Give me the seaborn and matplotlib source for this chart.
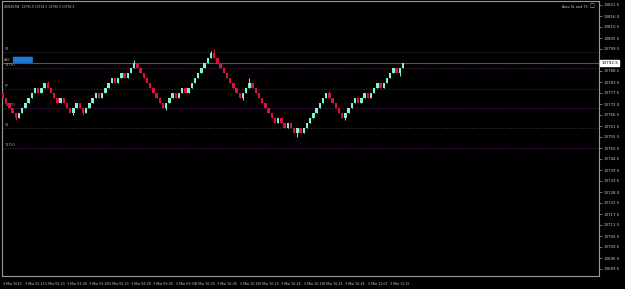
import numpy as np
import pandas as pd
import matplotlib
matplotlib.use("Agg")
import matplotlib.pyplot as plt
import matplotlib.transforms as mtransforms
import seaborn as sns

# ---------------- data ----------------
chart_title = "GER40,M4  13791.0 13792.5 13790.9 13792.5"
expert_label = "Auto SL and TS"

first_open = 13777.5
brick_closes = [
    13775.0, 13772.5, 13770.0, 13767.5, 13765.0,
    13767.5, 13770.0, 13772.5, 13775.0, 13777.5, 13780.0,
    13777.5,
    13780.0, 13782.5,
    13780.0,
    13777.5, 13775.0, 13772.5,
    13775.0,
    13772.5, 13770.0, 13767.5,
    13770.0, 13772.5,
    13770.0, 13767.5,
    13770.0, 13772.5, 13775.0, 13777.5,
    13775.0,
    13777.5, 13780.0, 13782.5, 13785.0,
    13782.5,
    13785.0, 13787.5,
    13785.0,
    13787.5, 13790.0, 13792.5,
    13790.0, 13787.5, 13785.0, 13782.5, 13780.0, 13777.5, 13775.0, 13772.5, 13770.0,
    13772.5, 13775.0, 13777.5,
    13775.0,
    13777.5, 13780.0,
    13777.5,
    13780.0, 13782.5, 13785.0, 13787.5, 13790.0, 13792.5, 13795.0, 13797.5,
    13795.0, 13792.5, 13790.0, 13787.5, 13785.0, 13782.5, 13780.0, 13777.5, 13775.0,
    13777.5, 13780.0, 13782.5,
    13780.0, 13777.5, 13775.0, 13772.5, 13770.0, 13767.5, 13765.0, 13762.5,
    13765.0,
    13762.5, 13760.0,
    13762.5,
    13760.0, 13757.5,
    13760.0,
    13757.5,
    13760.0, 13762.5, 13765.0, 13767.5, 13770.0, 13772.5, 13775.0, 13777.5,
    13775.0, 13772.5, 13770.0, 13767.5, 13765.0,
    13767.5, 13770.0, 13772.5, 13775.0,
    13772.5,
    13775.0, 13777.5,
    13775.0,
    13777.5, 13780.0, 13782.5,
    13780.0,
    13782.5, 13785.0, 13787.5, 13790.0,
    13787.5,
    13790.0, 13792.5,
]
# extra wick length (below, above) for some bricks
wick_extra = {4: (1.0, 0.0), 14: (0.0, 1.0), 22: (1.0, 0.0), 25: (1.0, 0.0),
              41: (0.0, 1.5), 51: (1.0, 0.0), 65: (0.0, 1.0), 66: (0.0, 2.0),
              75: (1.0, 0.0), 77: (0.0, 2.5), 92: (2.0, 0.0), 102: (0.0, 1.0),
              107: (1.0, 0.0), 124: (1.5, 0.0)}

price_ticks = [13821.5, 13816.0, 13810.5, 13805.0, 13799.5, 13794.0, 13788.5,
               13783.0, 13777.5, 13772.0, 13766.5, 13761.0, 13755.5, 13750.0,
               13744.5, 13739.0, 13733.5, 13728.0, 13722.5, 13717.0, 13711.5,
               13706.0, 13700.5, 13695.0, 13689.5]

time_tick_bricks = [0, 7, 13, 20, 27, 33, 40, 47, 54, 60, 67, 74, 80, 87, 94,
                    100, 107, 114, 121]
time_labels = ["3 Mar 2023", "3 Mar 02:15", "3 Mar 02:23", "3 Mar 03:06",
               "3 Mar 03:49", "3 Mar 06:13", "3 Mar 08:28", "3 Mar 09:00",
               "3 Mar 09:34", "3 Mar 10:00", "3 Mar 10:06", "3 Mar 10:16",
               "3 Mar 10:19", "3 Mar 10:26", "3 Mar 10:33", "3 Mar 10:41",
               "3 Mar 10:46", "3 Mar 11:07", "3 Mar 11:15"]

purple_levels = [13790.0, 13770.0, 13750.0]
purple_labels = ["13790", "13770", "13750"]
gray_levels = [13798.0, 13779.5, 13760.0]
gray_labels = ["R1", "PP", "S1"]
bid_price = 13792.5
ask_text = "13793.1"

# ---------------- build frame ----------------
n = len(brick_closes)
opens = [first_open] + brick_closes[:-1]
df = pd.DataFrame({"idx": np.arange(n), "open": opens, "close": brick_closes})
df["low"] = df[["open", "close"]].min(axis=1)
df["high"] = df[["open", "close"]].max(axis=1)
for i, (lo, hi) in wick_extra.items():
    df.loc[i, "low"] -= lo
    df.loc[i, "high"] += hi
df["up"] = df["close"] > df["open"]

GREEN = "#7ff5cf"
RED = "#e0103c"
AXC = "#9a9a9a"
TXT = "#c8c8c8"

sns.set_theme(style="dark", rc={
    "axes.facecolor": "black", "figure.facecolor": "black",
    "axes.edgecolor": AXC, "axes.grid": False,
    "xtick.color": AXC, "ytick.color": AXC,
})
plt.rcParams["font.family"] = ["DejaVu Sans"]

fig = plt.figure(figsize=(6.25, 2.89), dpi=100)
ax = fig.add_axes([2 / 625, 1 - 276 / 289, 597 / 625, 275 / 289])

# level lines
for lv in gray_levels:
    ax.axhline(lv, color="#343434", lw=0.8, ls=(0, (1, 1.5)), zorder=1)
for lv in purple_levels:
    ax.axhline(lv, color="#4e0f55", lw=0.9, ls=(0, (1, 1)), zorder=1)
ax.axhline(bid_price, color="#1a7a2a", lw=0.8, zorder=1)

lbl_tr = mtransforms.blended_transform_factory(ax.transAxes, ax.transData)
for lv, t in zip(gray_levels + purple_levels, gray_labels + purple_labels):
    ax.text(0.004, lv + 0.6, t, transform=lbl_tr, fontsize=2.4, color="#a0a0a0",
            va="bottom", ha="left")

# candles
colors = [GREEN if u else RED for u in df["up"]]
ax.vlines(df["idx"], df["low"], df["high"], colors=colors, lw=0.7, zorder=3)
ax.bar(df["idx"], df["close"] - df["open"], bottom=df["open"], width=0.75,
       color=colors, linewidth=0, zorder=4)

# axes
ax.set_xlim(-0.3125, 186.25)
ax.set_ylim(13686.0, 13823.5)
ax.yaxis.tick_right()
ax.set_yticks(price_ticks)
ax.set_yticklabels(["" if abs(p - bid_price) < 2.5 else f"{p:.1f}" for p in price_ticks],
                   fontsize=2.9, color=TXT)
ax.tick_params(axis="y", length=2, width=0.5, pad=1.5)
ax.set_xticks(time_tick_bricks)
ax.set_xticklabels(time_labels, fontsize=2.3, color=TXT, ha="left")
ax.tick_params(axis="x", length=2.5, width=0.5, pad=1.5)
for s in ax.spines.values():
    s.set_color(AXC)
    s.set_linewidth(0.8)

# current price box on right scale
ax.text(1.004, bid_price, f"{bid_price:.1f}", transform=lbl_tr, fontsize=3.0,
        color="black", va="center", ha="left", zorder=10, clip_on=False,
        bbox=dict(boxstyle="square,pad=0.25", fc="white", ec="white"))

# ask label (blue object)
ax.text(0.004, bid_price + 1.6, "ASK", transform=lbl_tr, fontsize=2.3,
        color="#a0a0a0", va="center", ha="left")
ax.text(0.02, bid_price + 1.6, ask_text, transform=lbl_tr, fontsize=3.2,
        color="#2a82e0", va="center", ha="left",
        bbox=dict(boxstyle="round,pad=0.25", fc="#1f78d6", ec="none"))

# titles
ax.text(0.004, 0.985, chart_title, transform=ax.transAxes, fontsize=2.2,
        color=TXT, va="top", ha="left")
ax.text(0.981, 0.985, expert_label, transform=ax.transAxes, fontsize=2.4,
        color=TXT, va="top", ha="right")
ax.text(0.988, 0.99, "\u25a1", transform=ax.transAxes, fontsize=3.5,
        color=TXT, va="top", ha="center")

fig.savefig("out.png", dpi=100, facecolor="black")
